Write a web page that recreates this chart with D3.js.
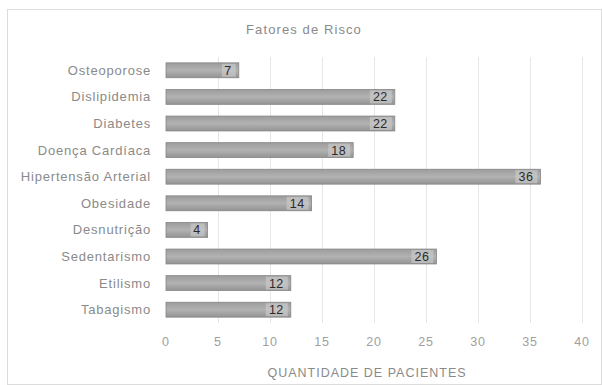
<!DOCTYPE html>
<html>
<head>
<meta charset="utf-8">
<script src="https://cdn.jsdelivr.net/npm/d3@7"></script>
<style>
  body { margin: 0; background: #fff; }
  svg text { font-family: "Liberation Sans", Arial, sans-serif; }
</style>
</head>
<body>
<div id="chart"></div>
<script>
// chart data
const categories = ["Osteoporose", "Dislipidemia", "Diabetes", "Doença Cardíaca", "Hipertensão Arterial",
                    "Obesidade", "Desnutrição", "Sedentarismo", "Etilismo", "Tabagismo"];
const values = [7, 22, 22, 18, 36, 14, 4, 26, 12, 12];
const ticks = [0, 5, 10, 15, 20, 25, 30, 35, 40];

const W = 602, H = 385;
const MARGIN = { left: 166, right: 20, top: 57, bottom: 62 };

const svg = d3.select("#chart").append("svg")
    .attr("width", W)
    .attr("height", H);

// gradient for bars
const grad = svg.append("defs").append("linearGradient")
    .attr("id", "barGrad").attr("x1", 0).attr("x2", 0).attr("y1", 0).attr("y2", 1);
grad.append("stop").attr("offset", "0%").attr("stop-color", "#9c9c9c");
grad.append("stop").attr("offset", "50%").attr("stop-color", "#b2b2b2");
grad.append("stop").attr("offset", "100%").attr("stop-color", "#939393");

// frame
svg.append("rect")
    .attr("x", 7.5).attr("y", 9.5)
    .attr("width", W - 8).attr("height", H - 10)
    .attr("fill", "none").attr("stroke", "#dcdcdc");

// scales
const x = d3.scaleLinear().domain([0, 40]).range([MARGIN.left, 582]);
const y = d3.scaleBand().domain(categories)
    .range([MARGIN.top, H - MARGIN.bottom])
    .paddingInner(0.44).paddingOuter(0.22);

// gridlines
svg.append("g").selectAll("line")
    .data(ticks.slice(1))
    .join("line")
    .attr("x1", d => x(d) + 0.5).attr("x2", d => x(d) + 0.5)
    .attr("y1", MARGIN.top).attr("y2", H - MARGIN.bottom)
    .attr("stroke", "#e6e6e6");

// x tick labels
svg.append("g").selectAll("text")
    .data(ticks)
    .join("text")
    .attr("x", d => x(d))
    .attr("y", 346)
    .attr("text-anchor", "middle")
    .attr("fill", "#a0a0a0")
    .style("font-size", "12.5px")
    .style("letter-spacing", "0.8px")
    .text(d => d);

// category labels
svg.append("g").selectAll("text")
    .data(categories)
    .join("text")
    .attr("x", MARGIN.left - 15)
    .attr("y", d => y(d) + y.bandwidth() / 2)
    .attr("dy", "0.35em")
    .attr("text-anchor", "end")
    .attr("fill", "#8a8a8a")
    .style("font-size", "13px")
    .style("letter-spacing", "0.8px")
    .text(d => d);

// bars
const rows = categories.map((c, i) => ({ cat: c, val: values[i] }));
svg.append("g").selectAll("rect")
    .data(rows)
    .join("rect")
    .attr("x", x(0))
    .attr("y", d => y(d.cat))
    .attr("width", d => x(d.val) - x(0))
    .attr("height", y.bandwidth())
    .attr("fill", "url(#barGrad)")
    .attr("stroke", "#858585")
    .attr("stroke-width", 0.8);

// data labels with light box
const lab = svg.append("g").selectAll("g")
    .data(rows)
    .join("g")
    .attr("transform", d => `translate(${x(d.val) - 3},${y(d.cat) + y.bandwidth() / 2})`);
lab.append("rect")
    .attr("x", d => -(String(d.val).length * 8 + 6))
    .attr("y", -6.5)
    .attr("width", d => String(d.val).length * 8 + 6)
    .attr("height", 13)
    .attr("fill", "#cfcfcf")
    .attr("opacity", 0.6);
lab.append("text")
    .attr("x", -4)
    .attr("dy", "0.36em")
    .attr("text-anchor", "end")
    .attr("fill", "#2a2a2a")
    .style("font-size", "12.5px")
    .style("letter-spacing", "0.5px")
    .text(d => d.val);

// title
svg.append("text")
    .attr("x", 304).attr("y", 34)
    .attr("text-anchor", "middle")
    .attr("fill", "#8a8a8a")
    .style("font-size", "13px")
    .style("letter-spacing", "1.1px")
    .text("Fatores de Risco");

// axis title
svg.append("text")
    .attr("x", 367).attr("y", 377)
    .attr("text-anchor", "middle")
    .attr("fill", "#8a8a8a")
    .style("font-size", "12.5px")
    .style("letter-spacing", "1px")
    .text("QUANTIDADE DE PACIENTES");
</script>
</body>
</html>
